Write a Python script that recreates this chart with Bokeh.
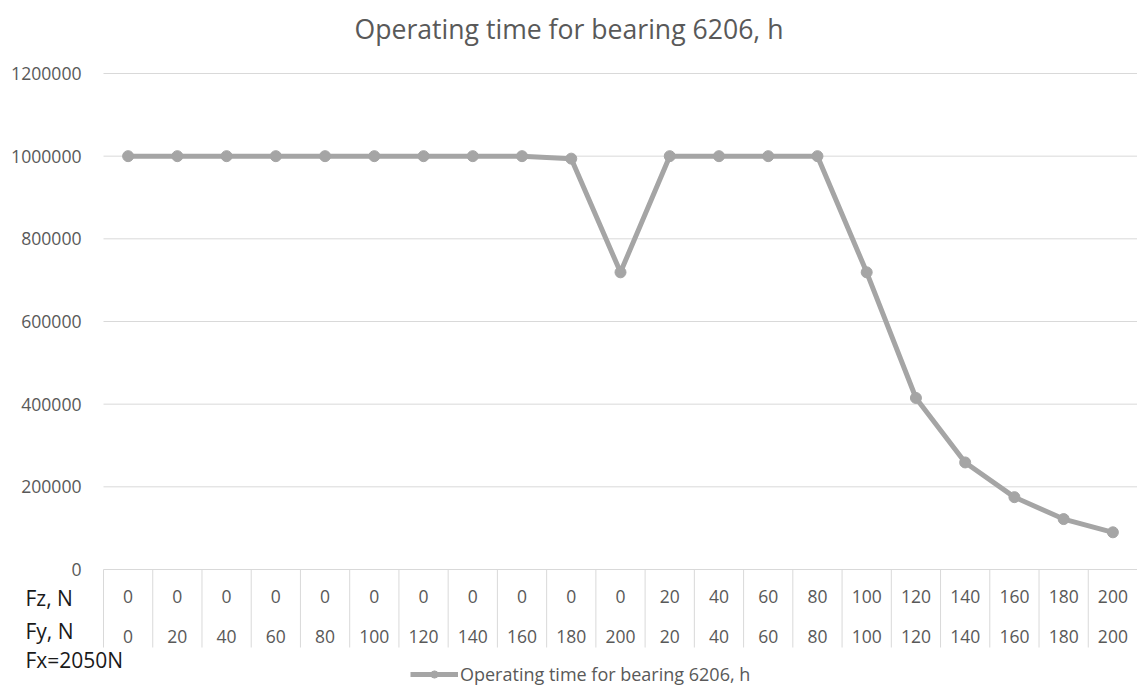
from bokeh.plotting import figure
from bokeh.models import Range1d, FixedTicker, NumeralTickFormatter, Legend, LegendItem
from bokeh.core.properties import value
from bokeh.embed import file_html
from bokeh.resources import INLINE

# ---------------- data ----------------
fz = [0, 0, 0, 0, 0, 0, 0, 0, 0, 0, 0, 20, 40, 60, 80, 100, 120, 140, 160, 180, 200]
fy = [0, 20, 40, 60, 80, 100, 120, 140, 160, 180, 200, 20, 40, 60, 80, 100, 120, 140, 160, 180, 200]
hours = [1000000, 1000000, 1000000, 1000000, 1000000, 1000000, 1000000, 1000000, 1000000,
         994000, 719000, 1000000, 1000000, 1000000, 1000000, 719000, 415000, 259000,
         175000, 122000, 90000]
y_ticks = [0, 200000, 400000, 600000, 800000, 1000000, 1200000]
series_name = "Operating time for bearing 6206, h"
title_text = "Operating time for bearing 6206, h"
row_labels = ["Fz, N", "Fy, N"]
note_text = "Fx=2050N"

# ---------------- layout (pixels) ----------------
W, H = 1137, 686
TOP = 52                 # frame top (title panel above)
PLOT_LEFT = 103          # left edge of the plotting area
ZERO_Y = 569             # pixel row of value 0
TOP_Y = 73               # pixel row of the top tick
n = len(hours)
ppx = (W - PLOT_LEFT) / n
ppu = (ZERO_Y - TOP_Y) / y_ticks[-1]


def ydat(py):
    return (ZERO_Y - py) / ppu


def xdat(px):
    return -0.5 + (px - PLOT_LEFT) / ppx


GRAY_TXT = "#595959"
GRID = "#d9d9d9"
LINE = "#a5a5a5"
DARK = "#1a1a1a"
FONT = "Open Sans"

p = figure(width=W, height=H, x_range=Range1d(xdat(0), xdat(W)), y_range=Range1d(ydat(H), ydat(TOP)),
           x_axis_location=None, y_axis_location="left", toolbar_location=None,
           output_backend="svg", min_border_left=0, min_border_top=TOP,
           min_border_right=0, min_border_bottom=0, outline_line_color=None,
           background_fill_color="white", border_fill_color="white",
           title=title_text)

p.title.align = "center"
p.title.text_font = FONT
p.title.text_font_size = "26.6px"
p.title.text_font_style = "normal"
p.title.text_color = GRAY_TXT
p.title.standoff = 11

ax = p.yaxis[0]
ax.fixed_location = -0.5
ax.ticker = FixedTicker(ticks=y_ticks)
ax.formatter = NumeralTickFormatter(format="0")
ax.axis_line_color = None
ax.major_tick_line_color = None
ax.minor_tick_line_color = None
ax.major_label_text_font = FONT
ax.major_label_text_font_size = "17.6px"
ax.major_label_text_color = GRAY_TXT
ax.major_label_standoff = 16

p.ygrid.visible = False
p.xgrid.visible = False

# horizontal gridlines across the plotting area
p.segment(x0=[-0.5] * len(y_ticks), y0=y_ticks, x1=[n - 0.5] * len(y_ticks), y1=y_ticks,
          line_color=GRID, line_width=1)

# table vertical separators
xs = [i - 0.5 for i in range(n + 1)]
p.segment(x0=xs, y0=[0] * len(xs), x1=xs, y1=[ydat(647)] * len(xs), line_color=GRID, line_width=1)

# table values
cx = list(range(n))
p.text(x=cx, y=[ydat(596)] * n, text=[str(v) for v in fz], text_align="center",
       text_baseline="middle", text_font=value(FONT), text_font_size="17.5px", text_color=GRAY_TXT)
p.text(x=cx, y=[ydat(636)] * n, text=[str(v) for v in fy], text_align="center",
       text_baseline="middle", text_font=value(FONT), text_font_size="17.5px", text_color=GRAY_TXT)

# row labels and note
p.text(x=[xdat(25)] * 3, y=[ydat(597), ydat(630), ydat(659)],
       text=[row_labels[0], row_labels[1], note_text], text_align="left",
       text_baseline="middle", text_font=value(FONT), text_font_size="21px", text_color=DARK)

# series
r1 = p.line(cx, hours, line_color=LINE, line_width=5)
r2 = p.scatter(cx, hours, size=11, fill_color=LINE, line_color=LINE)

legend = Legend(items=[LegendItem(label=series_name, renderers=[r1, r2])],
                location=(410, 0), orientation="horizontal")
legend.glyph_width = 48
legend.glyph_height = 18
legend.label_standoff = 2
legend.padding = 0
legend.margin = 0
legend.border_line_color = None
legend.background_fill_alpha = 0
legend.label_text_font = FONT
legend.label_text_font_size = "18px"
legend.label_text_color = GRAY_TXT
p.add_layout(legend)

open("out.html", "w").write(file_html(p, INLINE))
